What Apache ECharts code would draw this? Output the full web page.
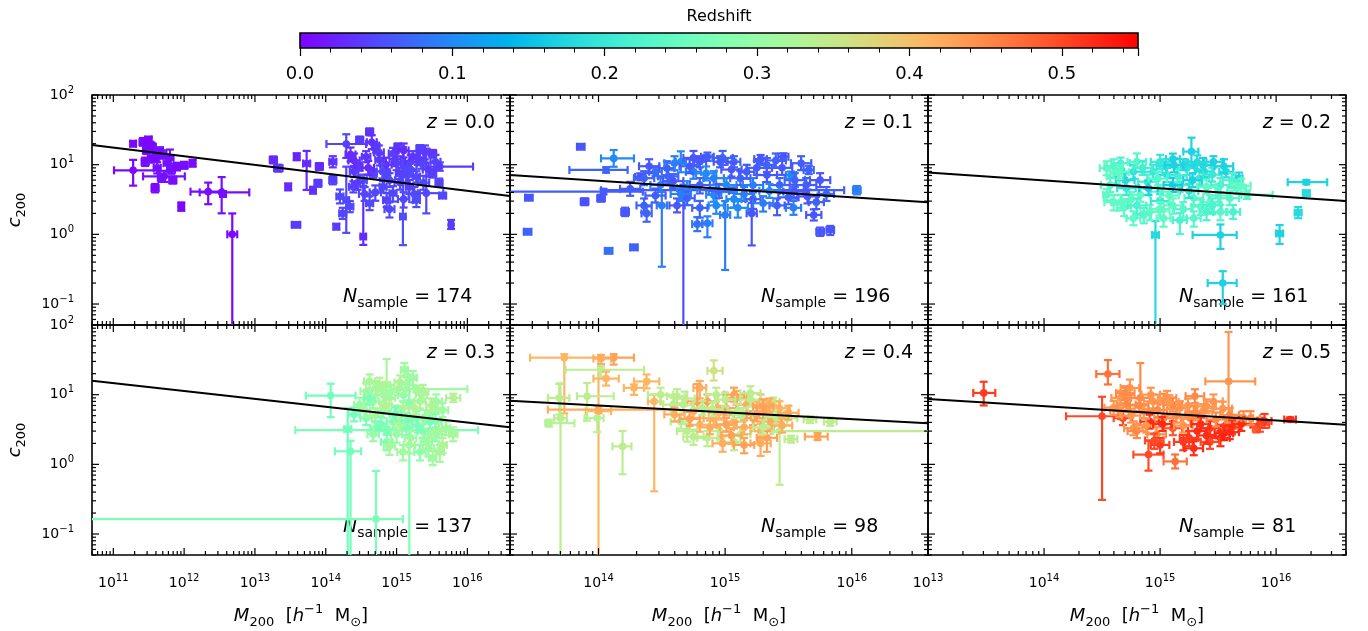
<!DOCTYPE html>
<html>
<head>
<meta charset="utf-8">
<script src="https://cdn.jsdelivr.net/npm/echarts@6/dist/echarts.min.js"></script>
<style>
  html, body { margin: 0; padding: 0; background: #fff; }
  #chart { width: 1368px; height: 631px; }
</style>
</head>
<body>
<div id="chart"></div>
<script>
// each cluster: [log10 M200, c200, redshift, dlogM lo, dlogM hi, dlogc lo, dlogc hi]
const clustersZ00 = [
  [11.28, 8.3, 0.005, 0.27, 0.37, 0.22, 0.15], [11.28, 20, 0.004, 0.04, 0.04, 0.04, 0.04],
  [11.42, 21, 0.006, 0.05, 0.05, 0.05, 0.06], [11.5, 23, 0.005, 0.05, 0.04, 0.05, 0.04],
  [11.47, 16, 0.007, 0.05, 0.05, 0.05, 0.05], [11.55, 18, 0.006, 0.04, 0.05, 0.06, 0.05],
  [11.6, 13, 0.008, 0.05, 0.05, 0.06, 0.05], [11.66, 15.5, 0.01, 0.04, 0.04, 0.08, 0.06],
  [11.53, 12, 0.006, 0.04, 0.04, 0.05, 0.05], [11.59, 4.6, 0.005, 0.05, 0.05, 0.06, 0.06],
  [11.72, 6.8, 0.01, 0.3, 0.29, 0.08, 0.08], [11.76, 10.5, 0.012, 0.05, 0.05, 0.12, 0.1],
  [11.84, 6.0, 0.01, 0.05, 0.05, 0.05, 0.05], [11.8, 12.5, 0.012, 0.05, 0.05, 0.08, 0.12],
  [11.9, 9.5, 0.008, 0.04, 0.04, 0.06, 0.05], [11.96, 2.5, 0.005, 0.04, 0.04, 0.06, 0.06],
  [12.0, 9.8, 0.01, 0.04, 0.05, 0.05, 0.05], [12.12, 10.5, 0.006, 0.04, 0.04, 0.05, 0.05],
  [12.34, 4.1, 0.008, 0.25, 0.2, 0.18, 0.13], [12.53, 4.0, 0.01, 0.31, 0.39, 0.3, 0.22],
  [12.68, 1.0, 0.004, 0.07, 0.07, 3.0, 0.3], [12.55, 3.8, 0.008, 0.04, 0.04, 0.04, 0.04],
  [11.45, 11, 0.008, 0.05, 0.05, 0.06, 0.06], [11.62, 9, 0.01, 0.05, 0.05, 0.08, 0.08],
  [11.7, 14, 0.01, 0.05, 0.05, 0.06, 0.06], [11.52, 19, 0.005, 0.05, 0.05, 0.05, 0.05],
  [11.68, 6.5, 0.012, 0.05, 0.05, 0.06, 0.06], [11.82, 8.5, 0.01, 0.05, 0.05, 0.06, 0.06],
  [13.26, 11.7, 0.03, 0.05, 0.05, 0.05, 0.05], [13.33, 8.9, 0.035, 0.06, 0.06, 0.05, 0.05],
  [13.47, 4.8, 0.03, 0.04, 0.04, 0.05, 0.05], [13.59, 13, 0.025, 0.04, 0.04, 0.05, 0.05],
  [13.58, 1.37, 0.04, 0.06, 0.06, 0.04, 0.04], [13.73, 10.4, 0.03, 0.05, 0.05, 0.38, 0.18],
  [13.82, 4.3, 0.035, 0.04, 0.04, 0.05, 0.05], [13.89, 5.4, 0.04, 0.05, 0.05, 0.05, 0.05],
  [13.91, 9.4, 0.03, 0.05, 0.05, 0.05, 0.05], [14.1, 11, 0.035, 0.05, 0.05, 0.08, 0.08],
  [14.29, 19.8, 0.045, 0.28, 0.28, 0.2, 0.14], [14.29, 3.1, 0.05, 0.04, 0.04, 0.47, 0.48],
  [14.15, 1.29, 0.04, 0.04, 0.04, 0.04, 0.04], [14.48, 22.6, 0.04, 0.05, 0.05, 0.05, 0.05],
  [14.62, 29.6, 0.035, 0.05, 0.05, 0.05, 0.05], [14.53, 0.93, 0.03, 0.04, 0.04, 0.12, 0.71],
  [14.1, 6.0, 0.045, 0.05, 0.05, 0.06, 0.06], [14.2, 3.5, 0.05, 0.05, 0.05, 0.1, 0.1],
  [14.39, 4.8, 0.045, 0.06, 0.06, 0.08, 0.08], [14.34, 2.5, 0.05, 0.05, 0.05, 0.08, 0.08],
  [14.46, 9.4, 0.04, 0.05, 0.05, 0.06, 0.06], [14.57, 13, 0.035, 0.06, 0.06, 0.08, 0.08],
  [14.67, 7.5, 0.045, 0.05, 0.05, 0.06, 0.06], [14.76, 11.7, 0.04, 0.06, 0.06, 0.08, 0.08],
  [14.81, 4.8, 0.05, 0.05, 0.05, 0.08, 0.08], [14.86, 3.1, 0.045, 0.05, 0.05, 0.1, 0.1],
  [14.71, 18, 0.04, 0.05, 0.05, 0.08, 0.06], [14.95, 14.5, 0.045, 0.06, 0.06, 0.08, 0.08],
  [15.04, 7.5, 0.04, 0.05, 0.05, 0.08, 0.08], [15.02, 18, 0.035, 0.05, 0.05, 0.06, 0.05],
  [15.09, 1.8, 0.055, 0.04, 0.04, 0.41, 1.0], [15.14, 9.4, 0.05, 0.06, 0.06, 0.08, 0.08],
  [15.18, 4.8, 0.045, 0.05, 0.05, 0.1, 0.1], [15.23, 13, 0.04, 0.05, 0.05, 0.08, 0.08],
  [15.33, 17, 0.045, 0.05, 0.05, 0.06, 0.05], [15.28, 6.7, 0.05, 0.05, 0.05, 0.08, 0.08],
  [15.42, 3.9, 0.05, 0.12, 0.24, 0.29, 0.64], [15.51, 7.5, 0.045, 0.05, 0.05, 0.06, 0.06],
  [15.61, 9.4, 0.04, 0.24, 0.47, 0.06, 0.06], [15.65, 3.6, 0.05, 0.05, 0.05, 0.04, 0.04],
  [15.77, 1.37, 0.04, 0.03, 0.03, 0.06, 0.07], [15.51, 14.5, 0.035, 0.05, 0.05, 0.06, 0.05],
  [14.86, 7.5, 0.05, 0.05, 0.05, 0.06, 0.06], [14.53, 6.0, 0.055, 0.05, 0.05, 0.08, 0.08],
  [14.24, 2.0, 0.05, 0.05, 0.05, 0.08, 0.08], [14.62, 2.8, 0.05, 0.05, 0.05, 0.1, 0.1],
  [15.28, 3.1, 0.055, 0.05, 0.05, 0.1, 0.1], [14.95, 3.9, 0.05, 0.05, 0.05, 0.12, 0.1],
  [15.35, 10.5, 0.05, 0.06, 0.06, 0.08, 0.08], [15.0, 10.5, 0.045, 0.06, 0.06, 0.1, 0.1],
  [14.4, 8.0, 0.04, 0.06, 0.06, 0.08, 0.08], [15.6, 5.5, 0.045, 0.05, 0.05, 0.06, 0.06],
  [14.35, 14, 0.03, 0.07, 0.07, 0.1, 0.1], [14.45, 5.5, 0.04, 0.08, 0.08, 0.1, 0.1],
  [14.6, 9, 0.03, 0.08, 0.08, 0.1, 0.1], [14.7, 4, 0.05, 0.08, 0.08, 0.12, 0.1],
  [14.75, 15, 0.04, 0.07, 0.07, 0.1, 0.1], [14.85, 10, 0.03, 0.08, 0.08, 0.1, 0.1],
  [14.9, 6, 0.05, 0.08, 0.08, 0.1, 0.1], [14.98, 12, 0.04, 0.08, 0.08, 0.1, 0.1],
  [15.05, 5.5, 0.05, 0.08, 0.08, 0.1, 0.1], [15.1, 16, 0.03, 0.07, 0.07, 0.1, 0.1],
  [15.15, 7, 0.045, 0.08, 0.08, 0.1, 0.1], [15.2, 11, 0.035, 0.08, 0.08, 0.1, 0.1],
  [15.25, 3.8, 0.05, 0.08, 0.08, 0.12, 0.1], [15.3, 12.5, 0.04, 0.08, 0.08, 0.1, 0.1],
  [15.38, 5.5, 0.05, 0.08, 0.08, 0.1, 0.1], [15.45, 8.5, 0.04, 0.08, 0.08, 0.1, 0.1],
  [15.55, 11, 0.045, 0.07, 0.07, 0.1, 0.1], [14.65, 21, 0.035, 0.07, 0.07, 0.1, 0.1],
  [14.9, 2.3, 0.05, 0.07, 0.07, 0.12, 0.1], [15.1, 3.2, 0.05, 0.08, 0.08, 0.12, 0.1],
  [14.4, 11.5, 0.03, 0.08, 0.08, 0.1, 0.1], [14.55, 3.8, 0.05, 0.08, 0.08, 0.1, 0.1],
  [15.4, 15, 0.04, 0.07, 0.07, 0.1, 0.1], [14.8, 8, 0.05, 0.08, 0.08, 0.1, 0.1],
  [15.2, 8.5, 0.05, 0.08, 0.08, 0.1, 0.1]
];
const clustersZ01 = [
  [13.45, 3.36, 0.06, 0.03, 0.03, 0.04, 0.04], [14.04, 4.1, 0.065, 1.5, 0.31, 0.04, 0.04],
  [13.44, 1.09, 0.07, 0.03, 0.03, 0.04, 0.04], [13.86, 18.1, 0.06, 0.03, 0.03, 0.04, 0.04],
  [13.89, 2.94, 0.055, 0.03, 0.03, 0.05, 0.05], [14.02, 3.3, 0.06, 0.03, 0.03, 0.05, 0.05],
  [14.08, 0.58, 0.08, 0.03, 0.03, 0.04, 0.04], [14.28, 0.65, 0.07, 0.03, 0.03, 0.04, 0.04],
  [14.21, 2.1, 0.06, 0.03, 0.03, 0.06, 0.06], [14.12, 12.3, 0.1, 0.1, 0.16, 0.12, 0.12],
  [14.06, 8.4, 0.07, 0.29, 0.17, 0.04, 0.04], [14.33, 6.7, 0.06, 0.04, 0.04, 0.05, 0.05],
  [14.45, 7.9, 0.08, 0.05, 0.05, 0.06, 0.06], [14.65, 11, 0.1, 0.04, 0.04, 0.15, 0.15],
  [14.5, 2.6, 0.09, 0.04, 0.04, 0.88, 0.2], [14.67, 4.1, 0.055, 0.04, 0.04, 3.0, 0.1],
  [15.0, 1.9, 0.09, 0.04, 0.04, 0.79, 0.2], [15.21, 2.0, 0.06, 0.04, 0.04, 0.46, 0.15],
  [14.86, 1.44, 0.09, 0.04, 0.04, 0.2, 0.1], [14.78, 1.4, 0.08, 0.04, 0.04, 0.1, 0.1],
  [14.38, 2.0, 0.07, 0.04, 0.04, 0.12, 0.1], [14.8, 11, 0.06, 0.05, 0.05, 0.08, 0.08],
  [14.86, 13, 0.065, 0.05, 0.05, 0.06, 0.06], [14.96, 11, 0.06, 0.05, 0.05, 0.08, 0.08],
  [15.07, 11, 0.07, 0.05, 0.05, 0.08, 0.08], [15.28, 12, 0.06, 0.05, 0.05, 0.06, 0.06],
  [15.46, 13, 0.06, 0.04, 0.04, 0.05, 0.05], [15.52, 7.1, 0.1, 0.04, 0.04, 0.05, 0.05],
  [15.66, 8.4, 0.07, 0.04, 0.04, 0.06, 0.06], [15.75, 1.09, 0.06, 0.03, 0.03, 0.06, 0.06],
  [15.83, 1.15, 0.06, 0.03, 0.03, 0.07, 0.06], [16.04, 4.3, 0.09, 0.03, 0.03, 0.06, 0.06],
  [15.07, 4.3, 0.065, 1.05, 0.87, 0.04, 0.04], [14.36, 6.4, 0.07, 0.08, 0.08, 0.1, 0.1],
  [14.49, 5.1, 0.09, 0.08, 0.08, 0.1, 0.1], [14.59, 5.8, 0.06, 0.08, 0.08, 0.1, 0.1],
  [14.7, 4.6, 0.1, 0.08, 0.08, 0.1, 0.1], [14.8, 5.1, 0.065, 0.08, 0.08, 0.12, 0.1],
  [14.91, 6.4, 0.09, 0.08, 0.08, 0.1, 0.1], [15.01, 5.1, 0.1, 0.08, 0.08, 0.1, 0.1],
  [15.12, 6.4, 0.07, 0.08, 0.08, 0.1, 0.1], [15.22, 5.1, 0.09, 0.08, 0.08, 0.1, 0.1],
  [15.33, 7.1, 0.06, 0.08, 0.08, 0.1, 0.1], [15.43, 5.1, 0.07, 0.08, 0.08, 0.1, 0.1],
  [15.54, 4.1, 0.06, 0.08, 0.08, 0.1, 0.1], [15.64, 5.1, 0.065, 0.08, 0.08, 0.1, 0.1],
  [15.72, 2.9, 0.07, 0.06, 0.06, 0.1, 0.1], [15.7, 1.9, 0.06, 0.06, 0.06, 0.08, 0.08],
  [15.54, 2.4, 0.09, 0.06, 0.06, 0.1, 0.1], [15.41, 2.6, 0.065, 0.06, 0.06, 0.14, 0.1],
  [14.93, 2.6, 0.1, 0.06, 0.06, 0.12, 0.1], [14.8, 2.4, 0.07, 0.06, 0.06, 0.14, 0.1],
  [14.62, 2.6, 0.06, 0.06, 0.06, 0.1, 0.1], [14.36, 2.6, 0.07, 0.06, 0.06, 0.1, 0.1],
  [14.54, 8.9, 0.065, 0.06, 0.06, 0.1, 0.1], [14.75, 7.9, 0.09, 0.06, 0.06, 0.1, 0.1],
  [15.17, 7.9, 0.065, 0.06, 0.06, 0.1, 0.1], [15.33, 9.9, 0.07, 0.06, 0.06, 0.1, 0.1],
  [15.07, 3.2, 0.1, 0.06, 0.06, 0.12, 0.1], [15.22, 3.2, 0.06, 0.06, 0.06, 0.14, 0.1],
  [14.91, 3.7, 0.1, 0.06, 0.06, 0.1, 0.1], [14.7, 3.3, 0.07, 0.06, 0.06, 0.1, 0.1],
  [14.4, 9.5, 0.06, 0.08, 0.08, 0.1, 0.1], [14.55, 6.8, 0.07, 0.08, 0.08, 0.1, 0.1],
  [14.65, 3.8, 0.09, 0.08, 0.08, 0.1, 0.1], [14.72, 9.5, 0.065, 0.08, 0.08, 0.1, 0.1],
  [14.85, 7.5, 0.1, 0.08, 0.08, 0.1, 0.1], [14.95, 4.2, 0.07, 0.08, 0.08, 0.1, 0.1],
  [15.05, 8.5, 0.06, 0.08, 0.08, 0.1, 0.1], [15.15, 3.8, 0.09, 0.08, 0.08, 0.1, 0.1],
  [15.25, 9.0, 0.065, 0.08, 0.08, 0.1, 0.1], [15.35, 4.2, 0.1, 0.08, 0.08, 0.1, 0.1],
  [15.45, 9.0, 0.06, 0.08, 0.08, 0.1, 0.1], [15.55, 6.0, 0.07, 0.08, 0.08, 0.1, 0.1],
  [15.6, 10.5, 0.065, 0.08, 0.08, 0.1, 0.1], [15.75, 6.0, 0.06, 0.08, 0.08, 0.1, 0.1],
  [15.8, 3.8, 0.07, 0.06, 0.06, 0.1, 0.1], [14.6, 10.5, 0.09, 0.08, 0.08, 0.1, 0.1],
  [14.98, 12.5, 0.07, 0.08, 0.08, 0.1, 0.1], [15.3, 2.8, 0.09, 0.08, 0.08, 0.12, 0.1],
  [14.45, 3.6, 0.065, 0.08, 0.08, 0.1, 0.1], [15.1, 2.4, 0.1, 0.08, 0.08, 0.14, 0.1],
  [15.5, 3.4, 0.065, 0.08, 0.08, 0.1, 0.1], [14.75, 12.5, 0.06, 0.08, 0.08, 0.1, 0.1],
  [15.4, 11.5, 0.07, 0.08, 0.08, 0.1, 0.1], [15.65, 3.5, 0.06, 0.08, 0.08, 0.1, 0.1],
  [14.25, 4.5, 0.065, 0.08, 0.08, 0.1, 0.1]
];
const clustersZ02 = [
  [15.27, 15.4, 0.17, 0.07, 0.06, 0.21, 0.2], [15.52, 0.98, 0.17, 0.24, 0.14, 0.2, 0.15],
  [15.54, 0.2, 0.17, 0.13, 0.12, 0.3, 0.17], [16.26, 5.6, 0.17, 0.16, 0.18, 0.03, 0.03],
  [16.26, 3.9, 0.18, 0.03, 0.03, 0.04, 0.04], [16.19, 2.05, 0.18, 0.03, 0.03, 0.08, 0.08],
  [16.03, 1.03, 0.17, 0.03, 0.03, 0.15, 0.12], [15.68, 6.4, 0.17, 0.03, 0.03, 0.08, 0.08],
  [14.96, 0.98, 0.18, 0.03, 0.03, 3.0, 0.2], [14.54, 8.9, 0.24, 0.06, 0.06, 0.1, 0.1],
  [14.57, 5.1, 0.23, 0.08, 0.08, 0.1, 0.1], [14.54, 3.7, 0.24, 0.03, 0.2, 0.08, 0.08],
  [14.66, 10.5, 0.22, 0.08, 0.08, 0.08, 0.08], [14.66, 2.9, 0.24, 0.08, 0.08, 0.12, 0.1],
  [14.77, 7.9, 0.19, 0.08, 0.08, 0.1, 0.1], [14.8, 11, 0.23, 0.08, 0.08, 0.08, 0.12],
  [14.77, 1.7, 0.24, 0.06, 0.06, 0.1, 0.1], [14.89, 5.7, 0.21, 0.08, 0.08, 0.1, 0.1],
  [14.91, 2.1, 0.24, 0.08, 0.08, 0.12, 0.1], [15.0, 11, 0.2, 0.08, 0.08, 0.1, 0.1],
  [15.0, 4.1, 0.23, 0.08, 0.08, 0.1, 0.1], [15.06, 7.1, 0.18, 0.08, 0.08, 0.1, 0.1],
  [15.11, 2.6, 0.24, 0.08, 0.08, 0.12, 0.1], [15.17, 5.1, 0.22, 0.08, 0.08, 0.1, 0.1],
  [15.23, 8.9, 0.19, 0.08, 0.08, 0.1, 0.1], [15.29, 3.3, 0.23, 0.08, 0.08, 0.1, 0.1],
  [15.34, 6.4, 0.2, 0.08, 0.08, 0.1, 0.1], [15.37, 9.9, 0.17, 0.08, 0.08, 0.1, 0.1],
  [15.43, 2.9, 0.24, 0.08, 0.08, 0.1, 0.1], [15.46, 11, 0.17, 0.08, 0.08, 0.08, 0.08],
  [15.52, 5.1, 0.22, 0.08, 0.08, 0.1, 0.1], [15.57, 7.9, 0.18, 0.06, 0.06, 0.08, 0.08],
  [15.6, 3.3, 0.23, 0.08, 0.08, 0.1, 0.1], [15.63, 2.1, 0.22, 0.06, 0.06, 0.1, 0.1],
  [15.66, 4.6, 0.24, 0.08, 0.08, 0.08, 0.08], [15.75, 3.7, 0.23, 0.05, 0.22, 0.06, 0.06],
  [14.71, 4.6, 0.2, 0.08, 0.08, 0.1, 0.1], [14.83, 3.7, 0.24, 0.08, 0.08, 0.1, 0.1],
  [14.94, 7.9, 0.2, 0.08, 0.08, 0.1, 0.1], [15.11, 5.1, 0.16, 0.08, 0.08, 0.1, 0.1],
  [15.29, 1.7, 0.23, 0.06, 0.06, 0.12, 0.1], [15.17, 1.6, 0.22, 0.06, 0.06, 0.2, 0.1],
  [15.03, 1.7, 0.24, 0.06, 0.06, 0.12, 0.1], [14.86, 1.9, 0.23, 0.06, 0.06, 0.12, 0.1],
  [14.69, 2.4, 0.24, 0.06, 0.06, 0.12, 0.1], [15.52, 2.1, 0.23, 0.06, 0.06, 0.12, 0.1],
  [15.4, 2.1, 0.22, 0.06, 0.06, 0.12, 0.1], [15.11, 12, 0.17, 0.06, 0.06, 0.08, 0.08],
  [15.2, 10, 0.18, 0.08, 0.08, 0.08, 0.08], [15.38, 8.0, 0.18, 0.08, 0.08, 0.08, 0.08],
  [14.62, 6.8, 0.24, 0.08, 0.08, 0.1, 0.1], [15.0, 3.0, 0.2, 0.08, 0.08, 0.1, 0.1],
  [15.25, 4.2, 0.19, 0.08, 0.08, 0.1, 0.1],
  [14.6, 9.5, 0.23, 0.08, 0.08, 0.1, 0.1], [14.7, 6.0, 0.18, 0.08, 0.08, 0.1, 0.1],
  [14.75, 3.2, 0.24, 0.08, 0.08, 0.1, 0.1], [14.85, 9.0, 0.21, 0.08, 0.08, 0.1, 0.1],
  [14.9, 4.6, 0.17, 0.08, 0.08, 0.1, 0.1], [14.98, 6.3, 0.23, 0.08, 0.08, 0.1, 0.1],
  [15.05, 9.5, 0.19, 0.08, 0.08, 0.1, 0.1], [15.08, 3.6, 0.24, 0.08, 0.08, 0.1, 0.1],
  [15.15, 7.0, 0.21, 0.08, 0.08, 0.1, 0.1], [15.2, 2.3, 0.23, 0.08, 0.08, 0.12, 0.1],
  [15.28, 6.0, 0.17, 0.08, 0.08, 0.1, 0.1], [15.32, 10.8, 0.18, 0.08, 0.08, 0.1, 0.1],
  [15.4, 4.8, 0.24, 0.08, 0.08, 0.1, 0.1], [15.45, 7.2, 0.2, 0.08, 0.08, 0.1, 0.1],
  [15.5, 3.6, 0.23, 0.08, 0.08, 0.1, 0.1], [15.55, 9.5, 0.17, 0.08, 0.08, 0.1, 0.1],
  [15.62, 6.0, 0.22, 0.08, 0.08, 0.1, 0.1], [15.7, 5.0, 0.24, 0.08, 0.08, 0.1, 0.1],
  [14.6, 2.9, 0.24, 0.08, 0.08, 0.12, 0.1], [14.8, 2.6, 0.22, 0.08, 0.08, 0.12, 0.1],
  [15.0, 2.3, 0.24, 0.08, 0.08, 0.12, 0.1], [15.35, 2.5, 0.23, 0.08, 0.08, 0.12, 0.1],
  [14.65, 7.8, 0.24, 0.08, 0.08, 0.1, 0.1], [15.12, 9.8, 0.17, 0.08, 0.08, 0.1, 0.1],
  [15.45, 2.6, 0.22, 0.08, 0.08, 0.12, 0.1]
];
const clustersZ03 = [
  [14.07, 9.7, 0.26, 0.35, 0.35, 0.31, 0.17], [14.31, 3.2, 0.26, 0.05, 0.05, 3.0, 0.3],
  [14.86, 3.1, 0.27, 1.29, 1.29, 0.05, 0.05], [14.35, 1.54, 0.26, 0.22, 0.15, 3.0, 0.15],
  [14.71, 0.164, 0.27, 4.5, 0.38, 3.0, 0.69], [15.18, 7.6, 0.27, 0.04, 0.04, 3.0, 0.41],
  [14.86, 13.9, 0.32, 0.05, 0.05, 0.1, 0.37], [15.11, 22.7, 0.31, 0.05, 0.05, 0.1, 0.1],
  [15.51, 1.23, 0.31, 0.05, 0.05, 0.1, 0.1], [15.8, 9.0, 0.33, 0.1, 0.1, 0.06, 0.06],
  [15.28, 12, 0.31, 0.36, 0.72, 0.05, 0.05], [14.48, 7.2, 0.3, 0.08, 0.08, 0.1, 0.1],
  [14.57, 11.2, 0.32, 0.08, 0.08, 0.12, 0.12], [14.57, 4.6, 0.27, 0.08, 0.08, 0.1, 0.1],
  [14.67, 8.0, 0.31, 0.08, 0.08, 0.1, 0.1], [14.71, 3.3, 0.26, 0.08, 0.08, 0.1, 0.1],
  [14.76, 13.9, 0.33, 0.08, 0.08, 0.1, 0.1], [14.81, 5.8, 0.3, 0.08, 0.08, 0.1, 0.1],
  [14.9, 9.0, 0.32, 0.08, 0.08, 0.1, 0.1], [14.95, 4.1, 0.28, 0.08, 0.08, 0.1, 0.1],
  [15.0, 2.7, 0.3, 0.08, 0.08, 0.12, 0.1], [15.04, 12.5, 0.31, 0.08, 0.08, 0.1, 0.1],
  [15.09, 6.4, 0.33, 0.08, 0.08, 0.1, 0.1], [15.14, 3.3, 0.27, 0.08, 0.08, 0.1, 0.1],
  [15.18, 1.9, 0.32, 0.08, 0.08, 0.12, 0.1], [15.28, 4.6, 0.29, 0.08, 0.08, 0.1, 0.1],
  [15.33, 8.0, 0.31, 0.08, 0.08, 0.1, 0.1], [15.37, 3.0, 0.27, 0.08, 0.08, 0.1, 0.1],
  [15.42, 2.1, 0.3, 0.08, 0.08, 0.12, 0.1], [15.47, 4.1, 0.26, 0.08, 0.08, 0.1, 0.1],
  [15.51, 5.8, 0.32, 0.08, 0.08, 0.1, 0.1], [15.56, 2.7, 0.28, 0.08, 0.08, 0.1, 0.1],
  [15.65, 1.9, 0.33, 0.06, 0.06, 0.12, 0.1], [15.7, 3.3, 0.31, 0.06, 0.06, 0.1, 0.1],
  [15.61, 1.5, 0.32, 0.06, 0.06, 0.14, 0.1], [14.86, 2.1, 0.27, 0.08, 0.08, 0.12, 0.1],
  [14.67, 2.7, 0.3, 0.08, 0.08, 0.1, 0.1], [15.09, 1.5, 0.31, 0.08, 0.08, 0.12, 0.1],
  [15.33, 1.5, 0.29, 0.08, 0.08, 0.12, 0.1], [15.56, 8.0, 0.3, 0.08, 0.08, 0.1, 0.1],
  [15.8, 2.7, 0.32, 0.06, 0.06, 0.1, 0.1], [14.81, 10, 0.31, 0.08, 0.08, 0.1, 0.1],
  [15.37, 11, 0.33, 0.08, 0.08, 0.1, 0.1], [14.62, 15.5, 0.32, 0.08, 0.08, 0.1, 0.1],
  [15.23, 17.4, 0.31, 0.06, 0.06, 0.1, 0.1], [14.4, 5.2, 0.26, 0.08, 0.08, 0.1, 0.1],
  [15.0, 5.5, 0.3, 0.08, 0.08, 0.1, 0.1],
  [14.55, 6.0, 0.31, 0.08, 0.08, 0.1, 0.1], [14.62, 9.0, 0.27, 0.08, 0.08, 0.1, 0.1],
  [14.7, 5.0, 0.32, 0.08, 0.08, 0.1, 0.1], [14.78, 3.8, 0.27, 0.08, 0.08, 0.1, 0.1],
  [14.85, 7.0, 0.33, 0.08, 0.08, 0.1, 0.1], [14.92, 11, 0.31, 0.08, 0.08, 0.1, 0.1],
  [14.98, 5.2, 0.26, 0.08, 0.08, 0.1, 0.1], [15.05, 3.8, 0.32, 0.08, 0.08, 0.1, 0.1],
  [15.1, 9.8, 0.3, 0.08, 0.08, 0.1, 0.1], [15.15, 4.3, 0.27, 0.08, 0.08, 0.1, 0.1],
  [15.2, 2.4, 0.31, 0.08, 0.08, 0.12, 0.1], [15.25, 6.5, 0.33, 0.08, 0.08, 0.1, 0.1],
  [15.3, 3.6, 0.27, 0.08, 0.08, 0.1, 0.1], [15.35, 10, 0.32, 0.08, 0.08, 0.1, 0.1],
  [15.4, 4.8, 0.3, 0.08, 0.08, 0.1, 0.1], [15.45, 2.5, 0.31, 0.08, 0.08, 0.12, 0.1],
  [15.5, 7.0, 0.33, 0.08, 0.08, 0.1, 0.1], [15.55, 4.2, 0.27, 0.08, 0.08, 0.1, 0.1],
  [15.6, 3.0, 0.32, 0.08, 0.08, 0.1, 0.1], [15.65, 6.0, 0.31, 0.08, 0.08, 0.1, 0.1],
  [14.9, 1.8, 0.32, 0.08, 0.08, 0.12, 0.1], [15.05, 15, 0.33, 0.08, 0.08, 0.1, 0.1],
  [15.45, 1.7, 0.31, 0.08, 0.08, 0.12, 0.1], [14.7, 12.5, 0.32, 0.08, 0.08, 0.1, 0.1],
  [15.15, 14, 0.31, 0.08, 0.08, 0.1, 0.1]
];
const clustersZ04 = [
  [13.73, 34, 0.41, 0.27, 0.27, 0.8, 0.05], [14.0, 5.8, 0.41, 0.1, 0.1, 3.0, 0.77],
  [14.12, 34, 0.43, 0.1, 0.16, 0.1, 0.05], [14.02, 33, 0.42, 0.06, 0.08, 0.08, 0.05],
  [13.7, 4.6, 0.34, 0.05, 0.05, 3.0, 0.5], [13.61, 3.9, 0.33, 0.03, 0.2, 0.05, 0.05],
  [13.69, 9.0, 0.34, 0.09, 0.08, 0.24, 0.2], [13.91, 9.5, 0.34, 0.08, 0.21, 0.35, 0.19],
  [13.99, 4.6, 0.33, 0.1, 0.05, 0.2, 0.1], [14.02, 22.8, 0.34, 0.28, 0.34, 0.1, 0.05],
  [14.06, 17, 0.41, 0.1, 0.1, 0.1, 0.1], [14.19, 1.81, 0.34, 0.08, 0.07, 0.4, 0.22],
  [14.44, 8.0, 0.41, 0.05, 0.05, 1.29, 0.1], [14.28, 12.5, 0.41, 0.08, 0.08, 0.1, 0.05],
  [14.38, 15.5, 0.41, 0.1, 0.1, 0.1, 0.1], [14.49, 10, 0.34, 0.1, 0.1, 0.1, 0.1],
  [14.91, 22, 0.36, 0.05, 0.07, 0.14, 0.15], [14.8, 12.5, 0.42, 0.05, 0.05, 0.15, 0.1],
  [15.09, 9, 0.42, 0.08, 0.08, 0.1, 0.1], [15.43, 3.0, 0.34, 0.05, 2.0, 0.77, 0.1],
  [15.73, 2.5, 0.43, 0.1, 0.08, 0.05, 0.05], [15.52, 2.3, 0.34, 0.05, 0.05, 0.05, 0.05],
  [15.67, 4.4, 0.34, 0.05, 0.05, 0.05, 0.05], [15.83, 4.1, 0.34, 0.05, 0.05, 0.06, 0.06],
  [15.38, 7.9, 0.35, 0.05, 0.05, 0.06, 0.06], [14.0, 6.1, 0.42, 0.4, 0.6, 0.05, 0.05],
  [14.59, 7.2, 0.34, 0.08, 0.08, 0.1, 0.1], [14.65, 4.1, 0.33, 0.08, 0.08, 0.1, 0.1],
  [14.7, 3.0, 0.34, 0.08, 0.08, 0.15, 0.1], [14.75, 5.8, 0.42, 0.08, 0.08, 0.1, 0.1],
  [14.8, 3.7, 0.41, 0.08, 0.08, 0.1, 0.1], [14.86, 8.0, 0.43, 0.08, 0.08, 0.1, 0.1],
  [14.91, 4.6, 0.42, 0.08, 0.08, 0.1, 0.1], [14.96, 3.0, 0.34, 0.08, 0.08, 0.12, 0.1],
  [15.01, 6.4, 0.43, 0.08, 0.08, 0.1, 0.1], [15.07, 4.1, 0.42, 0.08, 0.08, 0.1, 0.1],
  [15.12, 2.7, 0.33, 0.08, 0.08, 0.12, 0.1], [15.17, 7.2, 0.42, 0.08, 0.08, 0.1, 0.1],
  [15.22, 4.6, 0.43, 0.08, 0.08, 0.1, 0.1], [15.28, 3.0, 0.41, 0.08, 0.08, 0.12, 0.1],
  [15.33, 5.8, 0.42, 0.08, 0.08, 0.1, 0.1], [15.38, 3.7, 0.34, 0.08, 0.08, 0.1, 0.1],
  [15.43, 6.4, 0.41, 0.08, 0.08, 0.1, 0.1], [15.49, 4.6, 0.34, 0.08, 0.08, 0.1, 0.1],
  [14.86, 2.4, 0.34, 0.08, 0.08, 0.12, 0.1], [15.07, 2.1, 0.34, 0.08, 0.08, 0.12, 0.1],
  [15.28, 2.0, 0.42, 0.08, 0.08, 0.18, 0.1], [15.33, 2.4, 0.43, 0.08, 0.08, 0.2, 0.1],
  [14.93, 10, 0.34, 0.08, 0.08, 0.1, 0.1], [15.07, 10, 0.43, 0.08, 0.08, 0.1, 0.1],
  [15.28, 8.0, 0.41, 0.08, 0.08, 0.1, 0.1], [14.78, 8.0, 0.43, 0.08, 0.08, 0.1, 0.25],
  [14.67, 7.2, 0.34, 0.08, 0.08, 0.1, 0.1], [15.01, 3.7, 0.43, 0.08, 0.08, 0.1, 0.1],
  [15.14, 5.1, 0.34, 0.08, 0.08, 0.1, 0.1], [15.36, 4.1, 0.42, 0.08, 0.08, 0.1, 0.1],
  [14.6, 5.2, 0.42, 0.08, 0.08, 0.1, 0.1], [14.68, 8.8, 0.34, 0.08, 0.08, 0.1, 0.1],
  [14.72, 4.5, 0.43, 0.08, 0.08, 0.1, 0.1], [14.82, 6.5, 0.34, 0.08, 0.08, 0.1, 0.1],
  [14.88, 3.4, 0.42, 0.08, 0.08, 0.1, 0.1], [14.95, 5.5, 0.41, 0.08, 0.08, 0.1, 0.1],
  [15.0, 8.5, 0.34, 0.08, 0.08, 0.1, 0.1], [15.05, 2.6, 0.43, 0.08, 0.08, 0.12, 0.1],
  [15.1, 5.8, 0.34, 0.08, 0.08, 0.1, 0.1], [15.15, 3.4, 0.42, 0.08, 0.08, 0.1, 0.1],
  [15.2, 8.5, 0.34, 0.08, 0.08, 0.1, 0.1], [15.25, 5.2, 0.43, 0.08, 0.08, 0.1, 0.1],
  [15.3, 3.4, 0.34, 0.08, 0.08, 0.1, 0.1], [15.35, 7.0, 0.42, 0.08, 0.08, 0.1, 0.1],
  [15.4, 4.8, 0.34, 0.08, 0.08, 0.1, 0.1], [15.45, 3.6, 0.42, 0.08, 0.08, 0.1, 0.1],
  [14.75, 2.5, 0.34, 0.08, 0.08, 0.12, 0.1], [14.98, 2.0, 0.42, 0.08, 0.08, 0.12, 0.1],
  [15.15, 1.9, 0.43, 0.08, 0.08, 0.12, 0.1], [15.2, 10.5, 0.34, 0.08, 0.08, 0.1, 0.1],
  [14.62, 9.5, 0.34, 0.08, 0.08, 0.1, 0.1], [15.5, 5.5, 0.42, 0.08, 0.08, 0.1, 0.1],
  [14.9, 6.2, 0.34, 0.08, 0.08, 0.1, 0.1], [15.3, 6.8, 0.43, 0.08, 0.08, 0.1, 0.1]
];
const clustersZ05 = [
  [13.48, 10.6, 0.51, 0.09, 0.1, 0.18, 0.16], [14.5, 4.9, 0.5, 0.31, 0.14, 1.2, 0.28],
  [14.55, 19.8, 0.47, 0.1, 0.1, 0.15, 0.2], [15.59, 15.5, 0.44, 0.2, 0.23, 0.53, 0.71],
  [16.12, 4.4, 0.52, 0.05, 0.05, 0.03, 0.03], [15.83, 3.3, 0.49, 0.03, 0.03, 0.06, 0.06],
  [14.9, 1.38, 0.5, 0.13, 0.13, 0.23, 0.2], [15.13, 1.1, 0.47, 0.1, 0.1, 0.1, 0.1],
  [14.66, 9.0, 0.44, 0.08, 0.08, 0.1, 0.1], [14.68, 4.6, 0.5, 0.08, 0.08, 0.1, 0.1],
  [14.74, 12.5, 0.44, 0.08, 0.08, 0.1, 0.12], [14.77, 3.3, 0.44, 0.08, 0.08, 0.1, 0.1],
  [14.83, 9.0, 0.45, 0.08, 0.08, 0.1, 0.5], [14.86, 5.8, 0.44, 0.08, 0.08, 0.1, 0.1],
  [14.91, 4.1, 0.52, 0.08, 0.08, 0.1, 0.1], [14.94, 8.0, 0.44, 0.08, 0.08, 0.1, 0.1],
  [14.97, 2.7, 0.45, 0.08, 0.08, 0.12, 0.1], [15.03, 4.6, 0.45, 0.08, 0.08, 0.1, 0.35],
  [15.06, 9.0, 0.44, 0.08, 0.08, 0.1, 0.1], [15.11, 3.3, 0.49, 0.08, 0.08, 0.1, 0.1],
  [15.17, 6.4, 0.44, 0.08, 0.08, 0.1, 0.1], [15.2, 2.1, 0.51, 0.08, 0.08, 0.12, 0.1],
  [15.26, 4.6, 0.45, 0.08, 0.08, 0.1, 0.1], [15.32, 3.0, 0.52, 0.08, 0.08, 0.12, 0.1],
  [15.37, 5.8, 0.44, 0.08, 0.08, 0.1, 0.1], [15.43, 3.3, 0.51, 0.08, 0.08, 0.1, 0.1],
  [15.46, 8.0, 0.44, 0.08, 0.08, 0.1, 0.1], [15.52, 2.4, 0.52, 0.08, 0.08, 0.12, 0.1],
  [15.57, 3.7, 0.5, 0.08, 0.08, 0.1, 0.1], [15.6, 5.1, 0.45, 0.08, 0.08, 0.1, 0.1],
  [15.66, 4.1, 0.44, 0.08, 0.08, 0.1, 0.1], [15.72, 4.6, 0.45, 0.08, 0.08, 0.1, 0.1],
  [15.86, 3.7, 0.5, 0.08, 0.08, 0.1, 0.1], [14.71, 7.2, 0.45, 0.08, 0.08, 0.1, 0.1],
  [14.8, 3.0, 0.45, 0.08, 0.08, 0.1, 0.1], [15.0, 1.9, 0.51, 0.08, 0.08, 0.12, 0.1],
  [15.29, 1.7, 0.52, 0.08, 0.08, 0.1, 0.1], [15.43, 2.1, 0.5, 0.08, 0.08, 0.1, 0.1],
  [15.55, 2.8, 0.53, 0.08, 0.08, 0.1, 0.1], [15.11, 7.2, 0.45, 0.08, 0.08, 0.1, 0.1],
  [14.6, 6.5, 0.44, 0.08, 0.08, 0.1, 0.1], [15.3, 9.5, 0.45, 0.08, 0.08, 0.1, 0.1],
  [14.65, 6.0, 0.44, 0.08, 0.08, 0.1, 0.1], [14.7, 10.5, 0.45, 0.08, 0.08, 0.1, 0.1],
  [14.75, 5.0, 0.44, 0.08, 0.08, 0.1, 0.1], [14.82, 7.0, 0.45, 0.08, 0.08, 0.1, 0.1],
  [14.88, 3.6, 0.44, 0.08, 0.08, 0.1, 0.1], [14.92, 10, 0.44, 0.08, 0.08, 0.1, 0.1],
  [14.98, 6.0, 0.45, 0.08, 0.08, 0.1, 0.1], [15.02, 3.8, 0.52, 0.08, 0.08, 0.1, 0.1],
  [15.08, 7.8, 0.44, 0.08, 0.08, 0.1, 0.1], [15.14, 5.0, 0.45, 0.08, 0.08, 0.1, 0.1],
  [15.2, 3.6, 0.44, 0.08, 0.08, 0.1, 0.1], [15.24, 7.0, 0.44, 0.08, 0.08, 0.1, 0.1],
  [15.3, 5.4, 0.45, 0.08, 0.08, 0.1, 0.1], [15.35, 3.8, 0.52, 0.08, 0.08, 0.1, 0.1],
  [15.4, 6.8, 0.44, 0.08, 0.08, 0.1, 0.1], [15.48, 4.4, 0.45, 0.08, 0.08, 0.1, 0.1],
  [15.54, 6.3, 0.44, 0.08, 0.08, 0.1, 0.1], [15.62, 3.4, 0.51, 0.08, 0.08, 0.1, 0.1],
  [15.7, 3.8, 0.52, 0.08, 0.08, 0.1, 0.1], [15.78, 4.6, 0.45, 0.08, 0.08, 0.1, 0.1],
  [15.9, 4.2, 0.51, 0.06, 0.06, 0.1, 0.1], [15.4, 2.6, 0.52, 0.08, 0.08, 0.12, 0.1],
  [15.25, 2.4, 0.51, 0.08, 0.08, 0.12, 0.1], [15.6, 2.9, 0.52, 0.08, 0.08, 0.1, 0.1],
  [14.95, 2.2, 0.5, 0.08, 0.08, 0.12, 0.1]
];

// fitted c-M relation per panel: [[log10 M, c], [log10 M, c]]
const fitLines = [
  [[10.7, 19.1], [16.6, 3.55]],
  [[13.3, 7.1], [16.6, 2.88]],
  [[13.0, 7.7], [16.6, 3.0]],
  [[10.7, 15.9], [16.6, 3.4]],
  [[13.3, 8.2], [16.6, 3.9]],
  [[13.0, 8.7], [16.6, 3.7]]
];
const panelRedshifts = ['0.0', '0.1', '0.2', '0.3', '0.4', '0.5'];
const sampleSizes = [174, 196, 161, 137, 98, 81];
const massRanges = [[5e10, 4e16], [2e13, 4e16], [1e13, 4e16]];   // per column
const concRange = [0.05, 100];
const zMax = 0.55;

const panels = [clustersZ00, clustersZ01, clustersZ02, clustersZ03, clustersZ04, clustersZ05];

const FONT = 'DejaVu Sans';
const gridLefts = [92, 510, 928];
const gridTops = [95, 325];
const gridW = 418, gridH = 230;

// matplotlib 'rainbow' colormap
function rainbow(t) {
  t = Math.min(1, Math.max(0, t));
  const r = Math.min(1, Math.abs(2 * t - 0.5));
  const g = Math.sin(Math.PI * t);
  const b = Math.cos(Math.PI * t / 2);
  return 'rgb(' + Math.round(r * 255) + ',' + Math.round(g * 255) + ',' + Math.round(b * 255) + ')';
}

function powLabel(v) {
  const e = Math.log10(v);
  const r = Math.round(e);
  if (Math.abs(e - r) > 1e-6) return '';
  return '{b|10}{sup|' + (r < 0 ? '\u2212' + (-r) : r) + '}';
}

const labelRich = {
  b: { fontSize: 14, fontFamily: FONT, color: '#000', lineHeight: 20 },
  sup: { fontSize: 10, fontFamily: FONT, color: '#000', lineHeight: 11, verticalAlign: 'top' }
};
const nameRich = {
  i: { fontSize: 18, fontFamily: FONT, fontStyle: 'italic', color: '#000', lineHeight: 26 },
  t: { fontSize: 18, fontFamily: FONT, color: '#000', lineHeight: 26 },
  sub: { fontSize: 13, fontFamily: FONT, color: '#000', lineHeight: 14, verticalAlign: 'bottom' },
  sup: { fontSize: 13, fontFamily: FONT, color: '#000', lineHeight: 14, verticalAlign: 'top' }
};

// log-axis ticks (decades are major, 2..9 minor)
function logTicks(range) {
  const out = [];
  const e0 = Math.floor(Math.log10(range[0])), e1 = Math.ceil(Math.log10(range[1]));
  for (let e = e0; e <= e1; e++) {
    for (let k = 1; k <= 9; k++) {
      const v = k * Math.pow(10, e);
      if (v >= range[0] * 0.9999 && v <= range[1] * 1.0001) out.push({ v: v, major: k === 1 });
    }
  }
  return out;
}

function makeTickRenderer(xr) {
  return function (params, api) {
    const cs = params.coordSys;
    const children = [];
    const add = (x1, y1, x2, y2) => children.push({
      type: 'line', shape: { x1, y1, x2, y2 }, style: { stroke: '#000', lineWidth: 1.2 }
    });
    logTicks(xr).forEach(t => {
      const px = api.coord([t.v, 1])[0];
      const len = t.major ? 7 : 4;
      add(px, cs.y + cs.height, px, cs.y + cs.height - len);
      add(px, cs.y, px, cs.y + len);
    });
    logTicks(concRange).forEach(t => {
      const py = api.coord([xr[0], t.v])[1];
      const len = t.major ? 7 : 4;
      add(cs.x, py, cs.x + len, py);
      add(cs.x + cs.width, py, cs.x + cs.width - len, py);
    });
    return { type: 'group', children };
  };
}

function renderCluster(params, api) {
  const color = rainbow(api.value(2) / zMax);
  const p = api.coord([api.value(0), api.value(1)]);
  const xl = api.coord([api.value(3), api.value(1)])[0];
  const xh = api.coord([api.value(4), api.value(1)])[0];
  const yl = api.coord([api.value(0), api.value(5)])[1];
  const yh = api.coord([api.value(0), api.value(6)])[1];
  const cap = 4;
  const st = { stroke: color, lineWidth: 2.2 };
  const line = (x1, y1, x2, y2) => ({ type: 'line', shape: { x1, y1, x2, y2 }, style: st });
  return {
    type: 'group',
    children: [
      line(xl, p[1], xh, p[1]),
      line(p[0], yl, p[0], yh),
      line(xl, p[1] - cap, xl, p[1] + cap),
      line(xh, p[1] - cap, xh, p[1] + cap),
      line(p[0] - cap, yl, p[0] + cap, yl),
      line(p[0] - cap, yh, p[0] + cap, yh),
      { type: 'circle', shape: { cx: p[0], cy: p[1], r: 3.8 }, style: { fill: color } }
    ]
  };
}

const grids = [], xAxes = [], yAxes = [], series = [], graphics = [];

panels.forEach((clusters, p) => {
  const row = Math.floor(p / 3), col = p % 3;
  const xr = massRanges[col];
  grids.push({
    left: gridLefts[col], top: gridTops[row], width: gridW, height: gridH,
    show: true, borderColor: '#000', borderWidth: 1.6, backgroundColor: 'transparent'
  });
  xAxes.push({
    type: 'log', gridIndex: p, min: xr[0], max: xr[1],
    axisLine: { show: false }, axisTick: { show: false }, splitLine: { show: false },
    axisLabel: { show: row === 1, formatter: powLabel, margin: 18, rich: labelRich },
    name: row === 1 ? '{i|M}{sub|200}{t|  [}{i|h}{sup|\u22121}{t|  M}{sub|\u2299}{t|]}' : '',
    nameLocation: 'middle', nameGap: 48,
    nameTextStyle: { rich: nameRich }
  });
  yAxes.push({
    type: 'log', gridIndex: p, min: concRange[0], max: concRange[1],
    axisLine: { show: false }, axisTick: { show: false }, splitLine: { show: false },
    axisLabel: { show: col === 0, formatter: powLabel, margin: 18, rich: labelRich },
    name: col === 0 ? '{i|c}{sub|200}' : '',
    nameLocation: 'middle', nameGap: 64, nameRotate: 90,
    nameTextStyle: { rich: nameRich }
  });
  series.push({
    type: 'custom', xAxisIndex: p, yAxisIndex: p, clip: true, silent: true, z: 3,
    encode: { x: 0, y: 1 },
    data: clusters.map(d => [
      Math.pow(10, d[0]), d[1], d[2],
      Math.pow(10, d[0] - d[3]), Math.pow(10, d[0] + d[4]),
      d[1] / Math.pow(10, d[5]), d[1] * Math.pow(10, d[6])
    ]),
    renderItem: renderCluster
  });
  series.push({
    type: 'line', xAxisIndex: p, yAxisIndex: p, z: 5, silent: true, symbol: 'none',
    lineStyle: { color: '#000', width: 2 },
    data: fitLines[p].map(d => [Math.pow(10, d[0]), d[1]])
  });
  series.push({
    type: 'custom', xAxisIndex: p, yAxisIndex: p, clip: false, silent: true, z: 6,
    data: [[xr[0], concRange[0]]],
    renderItem: makeTickRenderer(xr)
  });
  graphics.push({
    type: 'text', x: gridLefts[col] + gridW - 15, y: gridTops[row] + 28,
    style: {
      text: '{i|z}{t| = ' + panelRedshifts[p] + '}', align: 'right', verticalAlign: 'middle',
      rich: {
        i: { fontSize: 19, fontFamily: FONT, fontStyle: 'italic', fill: '#000' },
        t: { fontSize: 19, fontFamily: FONT, fill: '#000' }
      }
    }
  });
  graphics.push({
    type: 'text', x: gridLefts[col] + 251, y: gridTops[row] + 202,
    style: {
      text: '{i|N}{sub|sample}{t| = ' + sampleSizes[p] + '}', align: 'left', verticalAlign: 'middle',
      rich: {
        i: { fontSize: 19, fontFamily: FONT, fontStyle: 'italic', fill: '#000', lineHeight: 26 },
        t: { fontSize: 19, fontFamily: FONT, fill: '#000', lineHeight: 26 },
        sub: { fontSize: 14, fontFamily: FONT, fill: '#000', lineHeight: 15, verticalAlign: 'bottom' }
      }
    }
  });
});

// colour bar
const cbStops = [];
for (let i = 0; i <= 20; i++) cbStops.push({ offset: i / 20, color: rainbow(i / 20) });
grids.push({
  left: 300, top: 33, width: 838, height: 15, show: true,
  borderColor: '#000', borderWidth: 1.6,
  backgroundColor: new echarts.graphic.LinearGradient(0, 0, 1, 0, cbStops)
});
xAxes.push({
  type: 'value', gridIndex: 6, min: 0, max: zMax, interval: 0.1,
  axisLine: { show: false }, splitLine: { show: false },
  axisTick: { show: true, length: 8, lineStyle: { color: '#000', width: 1.2 } },
  minorTick: { show: true, splitNumber: 5, length: 4.5, lineStyle: { color: '#000', width: 1 } },
  axisLabel: {
    margin: 17, fontSize: 18, fontFamily: FONT, color: '#000', showMaxLabel: false,
    formatter: v => (Math.abs(v / 0.1 - Math.round(v / 0.1)) < 1e-6 ? v.toFixed(1) : '')
  }
});
yAxes.push({ type: 'value', gridIndex: 6, show: false, min: 0, max: 1 });
graphics.push({
  type: 'text', x: 719, y: 17,
  style: { text: 'Redshift', align: 'center', verticalAlign: 'middle', fontSize: 16, fontFamily: FONT, fill: '#000' }
});

const chart = echarts.init(document.getElementById('chart'), null, { renderer: 'canvas' });
chart.setOption({
  animation: false,
  backgroundColor: '#fff',
  grid: grids,
  xAxis: xAxes,
  yAxis: yAxes,
  series: series,
  graphic: graphics
});
</script>
</body>
</html>
